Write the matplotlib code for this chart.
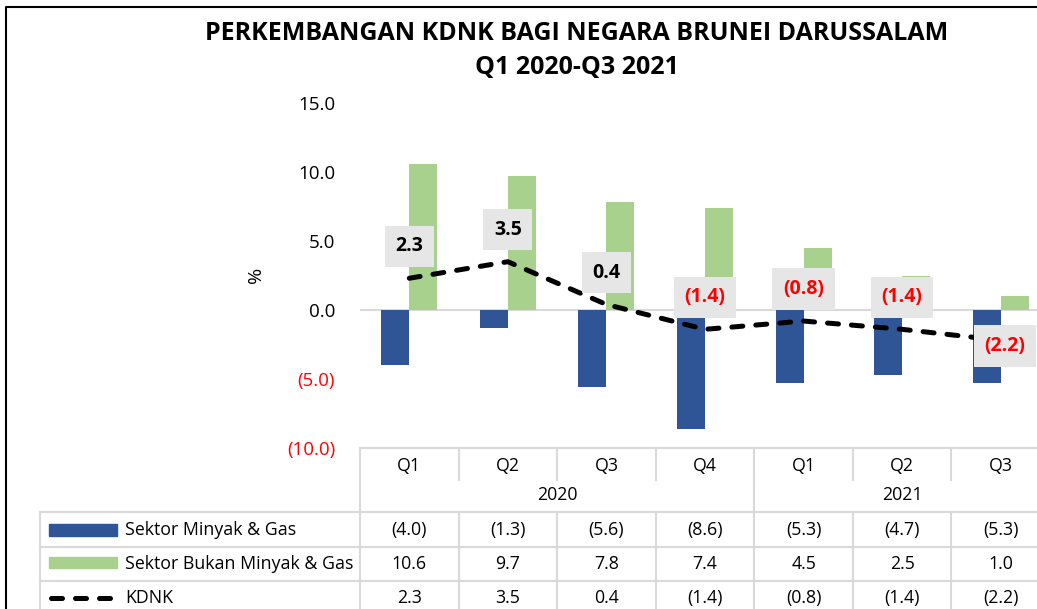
import matplotlib.pyplot as plt
from matplotlib import transforms
from matplotlib.lines import Line2D
from matplotlib.patches import Rectangle
from matplotlib.ticker import FuncFormatter

plt.rcParams['font.family'] = ['Open Sans', 'DejaVu Sans']

# data
quarters = ['Q1', 'Q2', 'Q3', 'Q4', 'Q1', 'Q2', 'Q3']
years = ['2020', '2021']
year_span = [4, 3]
minyak_gas = [-4.0, -1.3, -5.6, -8.6, -5.3, -4.7, -5.3]
bukan_minyak_gas = [10.6, 9.7, 7.8, 7.4, 4.5, 2.5, 1.0]
kdnk = [2.3, 3.5, 0.4, -1.4, -0.8, -1.4, -2.2]
series_names = ['Sektor Minyak & Gas', 'Sektor Bukan Minyak & Gas', 'KDNK']

BLUE = '#2F5597'
GREEN = '#A9D18E'
GRID = '#D9D9D9'
RED = '#FF0000'

W, H = 1037, 609


def fx(x_px):
    return x_px / W


def fy(y_px):
    return 1 - y_px / H


def fmt(v):
    return f'({abs(v):.1f})' if v < 0 else f'{v:.1f}'


fig = plt.figure(figsize=(W / 100, H / 100), dpi=100)
ax = fig.add_axes([fx(360), fy(448), fx(690), 345 / H])

x = list(range(len(quarters)))
bw = 0.284
ax.bar([i - bw / 2 for i in x], minyak_gas, width=bw, color=BLUE, zorder=2)
ax.bar([i + bw / 2 for i in x], bukan_minyak_gas, width=bw, color=GREEN, zorder=2)
ax.axhline(0, color=GRID, lw=1.5, zorder=1)
ax.plot(x, kdnk, color='black', lw=3.6, linestyle=(0, (2.2, 2.6)),
        dash_capstyle='round', zorder=4)

# data labels on the KDNK line
for i, v in enumerate(kdnk):
    if i == len(kdnk) - 1:
        off = (3, -4)
    else:
        off = (0, 23)
    ax.annotate(fmt(v), (i, v), xytext=off, textcoords='offset points',
                ha='center', va='center', fontsize=14, fontweight='bold',
                color=RED if v < 0 else 'black', zorder=5,
                bbox=dict(boxstyle='square,pad=0.55', fc='#E7E6E6', ec='none'))

ax.set_xlim(-0.5, len(quarters) - 0.5)
ax.set_ylim(-10, 15)
ax.set_yticks([-10, -5, 0, 5, 10, 15])
ax.yaxis.set_major_formatter(FuncFormatter(lambda v, p: fmt(v)))
ax.tick_params(axis='y', length=0, pad=18, labelsize=13.5)
ax.set_xticks([])
for s in ['top', 'right', 'left']:
    ax.spines[s].set_visible(False)
ax.spines['bottom'].set_color(GRID)
ax.spines['bottom'].set_linewidth(1.5)
for lab, v in zip(ax.get_yticklabels(), ax.get_yticks()):
    if v < 0:
        lab.set_color(RED)
ax.set_ylabel('%', fontsize=14)
ax.yaxis.set_label_coords(fx(265 - 360) / fx(690), (448 - 275) / 345)

# title
fig.text(fx(577), fy(33), 'PERKEMBANGAN KDNK BAGI NEGARA BRUNEI DARUSSALAM',
         ha='center', va='center', fontsize=18, fontweight='bold')
fig.text(fx(577), fy(67), 'Q1 2020-Q3 2021', ha='center', va='center',
         fontsize=18, fontweight='bold')

# data table below the chart
blend = transforms.blended_transform_factory(ax.transData, fig.transFigure)


def vline(xd, y0, y1):
    fig.add_artist(Line2D([xd, xd], [fy(y0), fy(y1)], transform=blend,
                          color=GRID, lw=1.5, clip_on=False))


def hline(x0, x1, y):
    fig.add_artist(Line2D([fx(x0), fx(x1)], [fy(y), fy(y)],
                          transform=fig.transFigure, color=GRID, lw=1.5))


vline(-0.5, 448, 609)
for k in range(len(quarters) - 1):
    b = k + 0.5
    vline(b, 448, 480)
    vline(b, 512, 609)
vline(year_span[0] - 0.5, 480, 512)
for y in [512, 547, 581]:
    hline(40, W, y)
fig.add_artist(Line2D([fx(40), fx(40)], [fy(512), fy(609)],
                      transform=fig.transFigure, color=GRID, lw=1.5))

for i, q in enumerate(quarters):
    fig.text(i, fy(466), q, transform=blend, ha='center', va='center', fontsize=12.8)
start = 0
for yr, n in zip(years, year_span):
    fig.text(start + (n - 1) / 2, fy(495), yr, transform=blend,
             ha='center', va='center', fontsize=12.8)
    start += n

rows_y = [530, 564, 598]
for vals, ry in zip([minyak_gas, bukan_minyak_gas, kdnk], rows_y):
    for i, v in enumerate(vals):
        fig.text(i, fy(ry), fmt(v), transform=blend, ha='center', va='center',
                 fontsize=12.8)
for name, ry in zip(series_names, rows_y):
    fig.text(fx(125), fy(ry), name, ha='left', va='center', fontsize=12.8)

fig.add_artist(Rectangle((fx(49), fy(536)), fx(68), 12 / H, color=BLUE,
                         transform=fig.transFigure))
fig.add_artist(Rectangle((fx(49), fy(568)), fx(68), 11 / H, color=GREEN,
                         transform=fig.transFigure))
fig.add_artist(Line2D([fx(51), fx(110)], [fy(598), fy(598)],
                      transform=fig.transFigure, color='black', lw=3.6,
                      linestyle=(0, (2.2, 2.6)), dash_capstyle='round'))

# outer frame (top and left edges visible)
fig.add_artist(Line2D([fx(6), fx(6), 1], [0, fy(7), fy(7)],
                      transform=fig.transFigure, color='black', lw=1.5))

fig.savefig('out.png', dpi=100)
